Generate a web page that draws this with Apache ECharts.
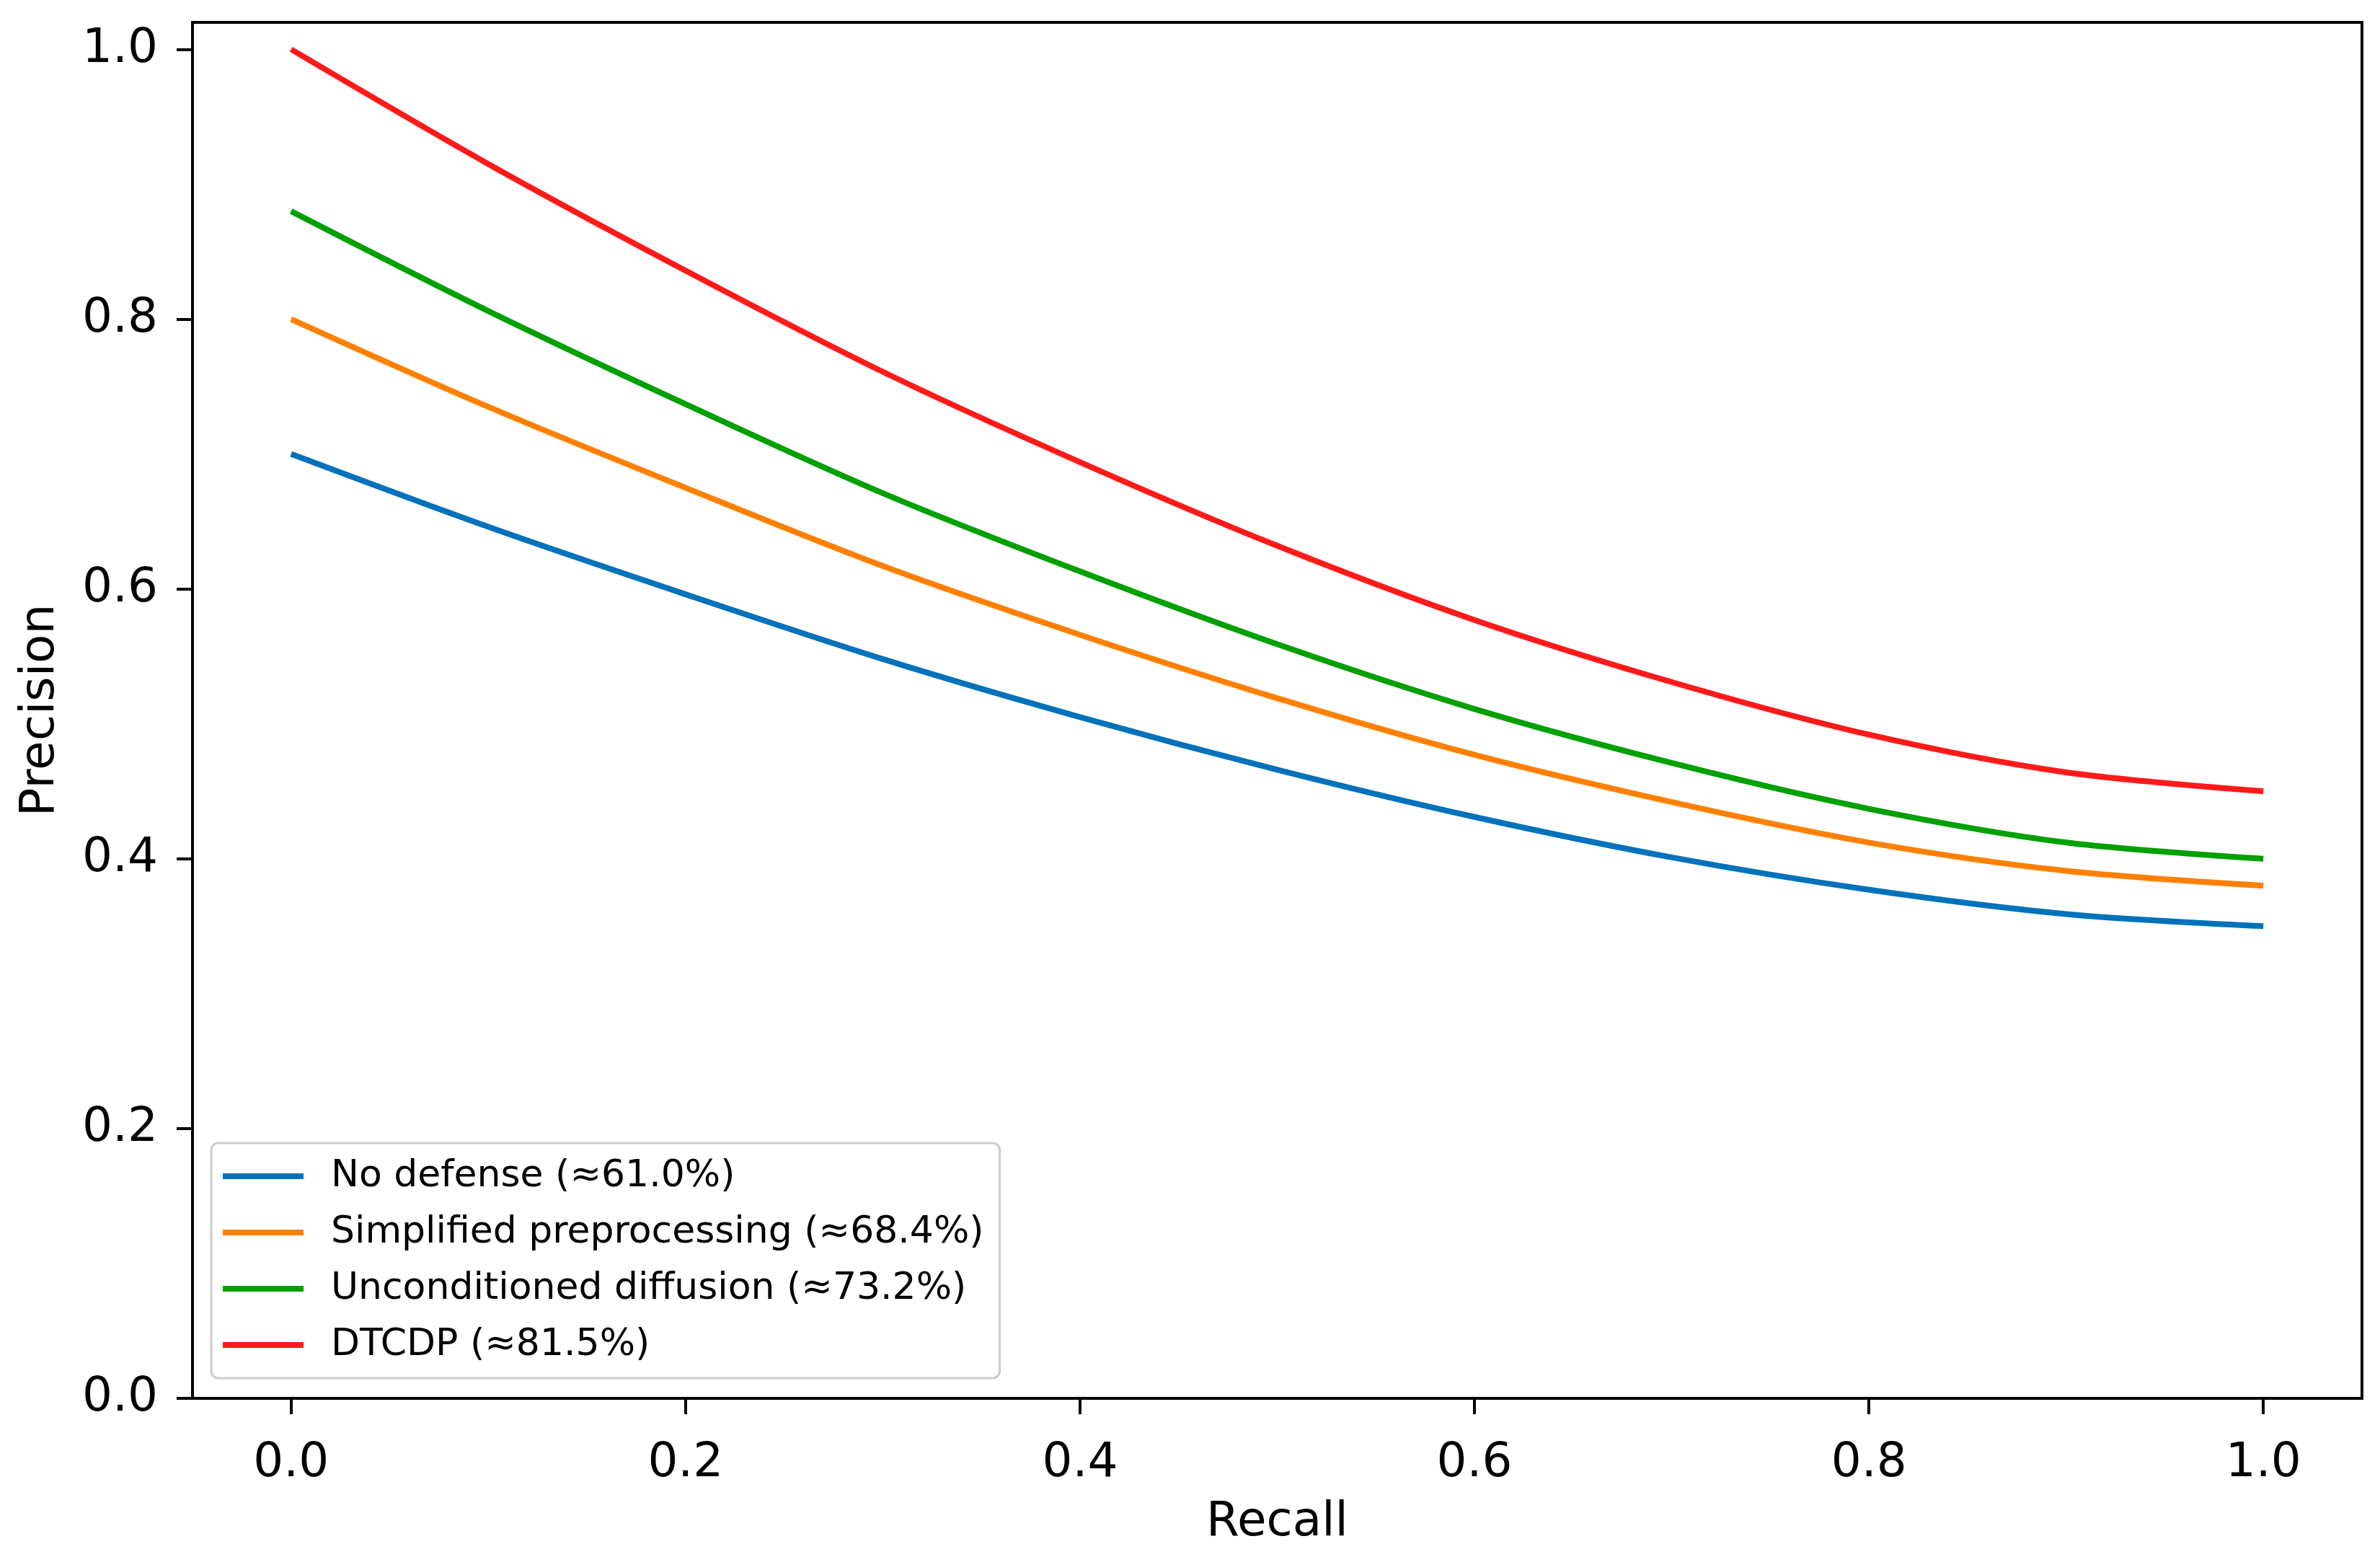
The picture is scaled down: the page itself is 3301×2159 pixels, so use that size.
<!DOCTYPE html>
<html>
<head>
<meta charset="utf-8">
<script src="https://cdn.jsdelivr.net/npm/echarts@6/dist/echarts.min.js"></script>
<style>html,body{margin:0;padding:0;background:#fff;}#c{width:3301px;height:2159px;}</style>
</head>
<body>
<div id="c"></div>
<script>
const recall = [0.0, 0.1, 0.2, 0.3, 0.4, 0.5, 0.6, 0.7, 0.8, 0.9, 1.0];
const noDefense = [0.700, 0.646, 0.596, 0.548, 0.505, 0.466, 0.431, 0.401, 0.377, 0.359, 0.350];
const simplified = [0.800, 0.735, 0.675, 0.617, 0.566, 0.519, 0.477, 0.442, 0.412, 0.391, 0.380];
const unconditioned = [0.880, 0.806, 0.737, 0.671, 0.613, 0.559, 0.511, 0.471, 0.437, 0.412, 0.400];
const dtcdp = [1.000, 0.915, 0.836, 0.761, 0.694, 0.632, 0.577, 0.531, 0.492, 0.464, 0.450];
const seriesNames = ['No defense (≈61.0%)', 'Simplified preprocessing (≈68.4%)', 'Unconditioned diffusion (≈73.2%)', 'DTCDP (≈81.5%)'];
const tickValues = [0.0, 0.2, 0.4, 0.6, 0.8, 1.0];

const colors = ['#0072BB', '#FF8000', '#00A000', '#FF1A1A'];
const seriesValues = [noDefense, simplified, unconditioned, dtcdp];
const font = 'DejaVu Sans';

const chart = echarts.init(document.getElementById('c'), null, {renderer: 'canvas'});
const axisCommon = {
  axisLine: {show: true, onZero: false, lineStyle: {color: '#000', width: 4}},
  axisTick: {show: true, inside: false, length: 22, lineStyle: {color: '#000', width: 4}, customValues: tickValues},
  splitLine: {show: false},
  nameTextStyle: {fontFamily: font, fontSize: 66, color: '#000'}
};
chart.setOption({
  backgroundColor: '#ffffff',
  animation: false,
  color: colors,
  grid: {
    left: 267, right: 25, top: 31, bottom: 220,
    show: true, borderColor: '#000', borderWidth: 4, backgroundColor: 'transparent'
  },
  legend: {
    orient: 'vertical',
    left: 293, top: 1585,
    icon: 'rect',
    itemWidth: 112, itemHeight: 8,
    itemGap: 18,
    padding: [16, 22, 16, 16],
    backgroundColor: '#ffffff',
    borderColor: '#cccccc', borderWidth: 3, borderRadius: 10,
    textStyle: {fontFamily: font, fontSize: 52, color: '#000', lineHeight: 60, padding: [0, 0, 0, 33]},
    data: seriesNames
  },
  xAxis: Object.assign({}, axisCommon, {
    type: 'value', min: -0.05, max: 1.05,
    name: 'Recall', nameLocation: 'middle', nameGap: 140,
    axisLabel: {show: true, margin: 58, fontFamily: font, fontSize: 66, color: '#000',
      customValues: tickValues, formatter: v => v.toFixed(1)}
  }),
  yAxis: Object.assign({}, axisCommon, {
    type: 'value', min: 0, max: 1.02,
    name: 'Precision', nameLocation: 'middle', nameGap: 177, nameRotate: 90,
    axisLabel: {show: true, margin: 48, fontFamily: font, fontSize: 66, color: '#000',
      customValues: tickValues, formatter: v => v.toFixed(1)}
  }),
  series: seriesValues.map((vals, i) => ({
    name: seriesNames[i],
    type: 'line',
    data: recall.map((r, j) => [r, vals[j]]),
    symbol: 'none',
    smooth: 0.3,
    lineStyle: {width: 8, color: colors[i], cap: 'butt'},
    itemStyle: {color: colors[i]},
    z: 2 + i
  }))
});
</script>
</body>
</html>
